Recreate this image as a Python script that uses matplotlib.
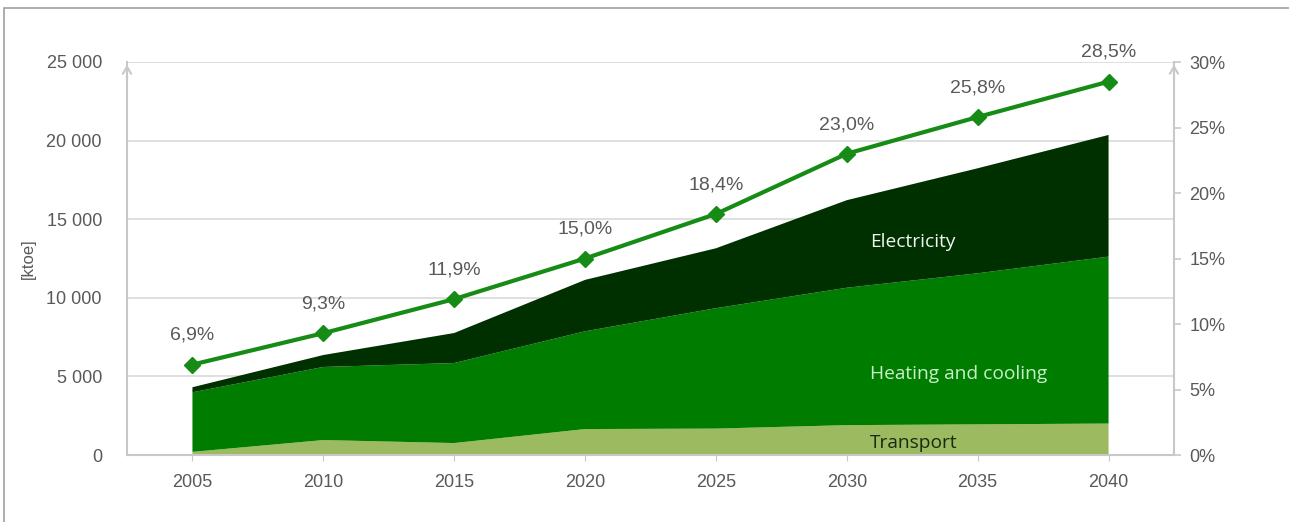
import numpy as np
import matplotlib
matplotlib.use("Agg")
import matplotlib.pyplot as plt
from matplotlib.patches import Rectangle
from matplotlib.ticker import FuncFormatter, PercentFormatter

plt.rcParams["font.family"] = ["Liberation Sans", "DejaVu Sans"]

# renewable energy by sector [ktoe] and RES share of gross final consumption
years = ["2005", "2010", "2015", "2020", "2025", "2030", "2035", "2040"]
transport = [200, 950, 760, 1650, 1680, 1900, 1950, 2000]
heating_cooling = [3790, 4650, 5090, 6220, 7660, 8740, 9610, 10620]
electricity = [320, 760, 1910, 3270, 3810, 5570, 6680, 7740]
res_share = [6.9, 9.3, 11.9, 15.0, 18.4, 23.0, 25.8, 28.5]

GRAY = "#595959"
AXIS = "#c8c8c8"
GRID = "#d9d9d9"

x = np.arange(len(years))

fig = plt.figure(figsize=(12.89, 5.22), dpi=100)
# outer frame, open at the bottom and on the right
fig.patches.append(Rectangle((4 / 1289, -0.2), 1.2, 1.2 - 8 / 522, transform=fig.transFigure,
                             fill=False, edgecolor="#a0a0a0", lw=1.2, zorder=0))

ax = fig.add_axes([127 / 1289, 1 - 455 / 522, (1174 - 127) / 1289, (455 - 62) / 522])
ax.stackplot(x, transport, heating_cooling, electricity,
             colors=["#9cba5f", "#007d00", "#003000"], lw=0, zorder=2)
ax.set_xlim(-0.5, len(years) - 0.5)
ax.set_ylim(0, 25000)
ax.set_yticks(np.arange(0, 25001, 5000))
ax.yaxis.set_major_formatter(FuncFormatter(lambda v, _: f"{int(v):,}".replace(",", " ")))
ax.set_xticks(x)
ax.set_xticklabels(years)
ax.grid(axis="y", color=GRID, lw=1.2, zorder=0)
ax.set_axisbelow(True)
ax.tick_params(axis="y", length=0, pad=18, labelsize=13, labelcolor=GRAY)
ax.tick_params(axis="x", length=4, color=AXIS, pad=10, labelsize=13, labelcolor=GRAY)
ax.set_ylabel("[ktoe]", color=GRAY, fontsize=12, labelpad=8)
for side in ["top", "right"]:
    ax.spines[side].set_visible(False)
for side in ["left", "bottom"]:
    ax.spines[side].set_color(AXIS)
    ax.spines[side].set_linewidth(1.5)

# sector names inside the areas
seg_font = ["Open Sans", "DejaVu Sans"]
ax.text(5.18, 13550, "Electricity", color="#eef6ee", fontsize=13.8, family=seg_font,
        ha="left", va="center", zorder=5)
ax.text(5.18, 5150, "Heating and cooling", color="#c8f0c8", fontsize=13.8, family=seg_font,
        ha="left", va="center", zorder=5)
ax.text(5.18, 780, "Transport", color="#1a2a10", fontsize=13.8, family=seg_font,
        ha="left", va="center", zorder=5)

ax2 = ax.twinx()
ax2.set_ylim(0, 30)
ax2.set_yticks(np.arange(0, 31, 5))
ax2.yaxis.set_major_formatter(PercentFormatter(decimals=0))
ax2.tick_params(axis="y", length=5, width=1.2, color=AXIS, pad=6, labelsize=13, labelcolor=GRAY)
for side in ["top", "left", "bottom"]:
    ax2.spines[side].set_visible(False)
ax2.spines["right"].set_color(AXIS)
ax2.spines["right"].set_linewidth(1.5)

ax2.plot(x, res_share, color="#168c16", lw=3, marker="D", ms=8,
         markeredgecolor="#168c16", zorder=4)
for xi, v in zip(x, res_share):
    ax2.annotate(f"{v:.1f}%".replace(".", ","), (xi, v), xytext=(0, 21),
                 textcoords="offset points", ha="center", va="center",
                 fontsize=14, color=GRAY)

# open arrowheads on top of both value axes
for xa in (0.0, 1.0):
    ax2.annotate("", xy=(xa, 1.0), xytext=(xa, 0.95), xycoords="axes fraction",
                 arrowprops=dict(arrowstyle="->,head_length=0.5,head_width=0.3",
                                 color=AXIS, lw=1.5), annotation_clip=False)

fig.savefig("out.png", dpi=100)
